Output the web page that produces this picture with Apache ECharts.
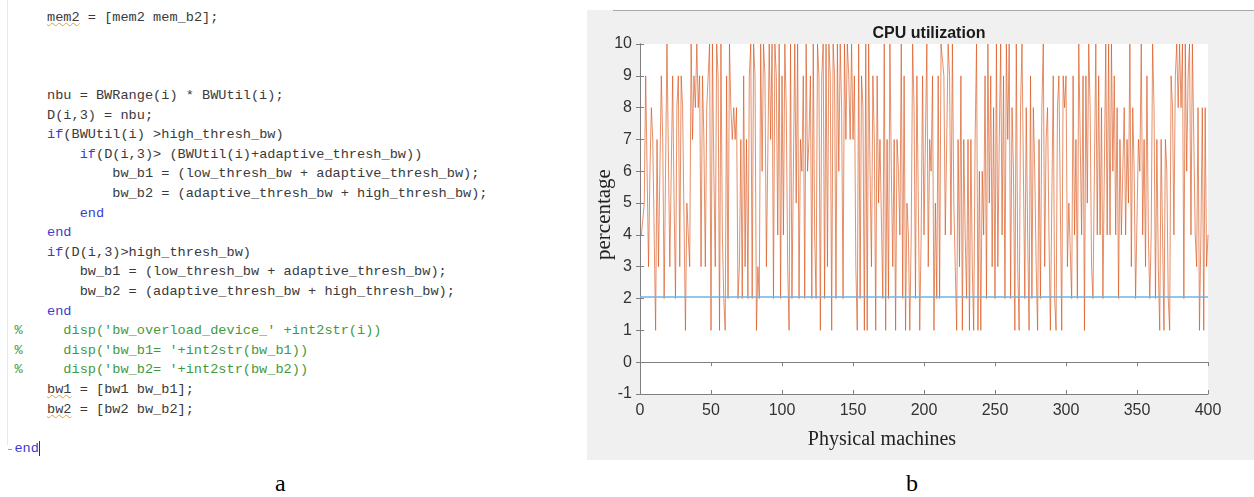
<!DOCTYPE html>
<html>
<head>
<meta charset="utf-8">
<script src="https://cdn.jsdelivr.net/npm/echarts@6/dist/echarts.min.js"></script>
<style>
  html, body { margin: 0; padding: 0; background: #fff; }
  #page { position: relative; width: 1254px; height: 497px; overflow: hidden; }
  #code {
    position: absolute; left: 14.4px; top: 7.7px; margin: 0;
    font-family: "Liberation Mono", "DejaVu Sans Mono", monospace;
    font-size: 13.6px; line-height: 19.6px; color: #3a3a3a; white-space: pre;
  }
  #code .kw { color: #3b3bd0; }
  #code .cm { color: #3f9a3f; }
  #code .wv { text-decoration: underline wavy #e3a03a; text-decoration-thickness: 1px; }
  #code .cur { border-right: 1.5px solid #333; }
  #gutter { position: absolute; left: 7px; top: 0; width: 1px; height: 445px; background: #e8e8e8; }
  #fold { position: absolute; left: 8px; top: 449px; width: 4px; height: 1px; background: #999; }
  .lbl { position: absolute; top: 470px; font-family: "Liberation Serif", serif; font-size: 24px; color: #000; }
  #chart { position: absolute; left: 587px; top: 10px; width: 667px; height: 450px; }
  #topline { position: absolute; left: 613px; top: 10px; width: 641px; height: 1px; background: #a8a8a8; }
</style>
</head>
<body>
<div id="page">
  <div id="gutter"></div>
  <div id="fold"></div>
<pre id="code">    <span class="wv">mem2</span> = [mem2 mem_b2];



    nbu = BWRange(i) * BWUtil(i);
    D(i,3) = nbu;
    <span class="kw">if</span>(BWUtil(i) >high_thresh_bw)
        <span class="kw">if</span>(D(i,3)> (BWUtil(i)+adaptive_thresh_bw))
            bw_b1 = (low_thresh_bw + adaptive_thresh_bw);
            bw_b2 = (adaptive_thresh_bw + high_thresh_bw);
        <span class="kw">end</span>
    <span class="kw">end</span>
    <span class="kw">if</span>(D(i,3)>high_thresh_bw)
        bw_b1 = (low_thresh_bw + adaptive_thresh_bw);
        bw_b2 = (adaptive_thresh_bw + high_thresh_bw);
    <span class="kw">end</span>
<span class="cm">%     disp('bw_overload_device_' +int2str(i))</span>
<span class="cm">%     disp('bw_b1= '+int2str(bw_b1))</span>
<span class="cm">%     disp('bw_b2= '+int2str(bw_b2))</span>
    <span class="wv">bw1</span> = [bw1 bw_b1];
    <span class="wv">bw2</span> = [bw2 bw_b2];

<span class="kw cur">end</span></pre>
  <div class="lbl" style="left:275px;">a</div>
  <div class="lbl" style="left:906px;">b</div>
  <div id="chart"></div>
  <div id="topline"></div>
</div>

<script>
// CPU utilization per physical machine (machines 1..400)
const cpuUtil = [
  4, 4, 5, 9, 9, 3, 6, 8, 7, 4,
  1, 7, 3, 6, 9, 7, 2, 6, 10, 10,
  3, 6, 9, 5, 2, 8, 9, 3, 9, 8,
  8, 1, 5, 4, 3, 10, 7, 9, 8, 10,
  8, 9, 3, 9, 7, 3, 8, 9, 10, 1,
  10, 6, 3, 10, 9, 1, 10, 4, 2, 1,
  9, 2, 10, 8, 7, 8, 7, 8, 2, 3,
  7, 2, 9, 3, 7, 2, 9, 10, 2, 10,
  9, 1, 3, 2, 10, 6, 10, 9, 3, 3,
  10, 7, 10, 2, 10, 9, 4, 10, 2, 9,
  4, 10, 8, 3, 1, 10, 2, 6, 10, 5,
  10, 2, 7, 6, 9, 2, 10, 6, 7, 9,
  2, 10, 4, 2, 10, 9, 1, 9, 10, 2,
  10, 3, 10, 9, 1, 10, 9, 2, 10, 6,
  10, 8, 2, 10, 7, 10, 9, 7, 10, 7,
  9, 3, 1, 10, 2, 9, 8, 1, 10, 1,
  10, 6, 3, 9, 7, 1, 9, 5, 7, 7,
  2, 10, 1, 7, 2, 10, 6, 3, 7, 1,
  7, 6, 4, 10, 2, 9, 1, 5, 4, 1,
  4, 10, 8, 2, 9, 5, 1, 4, 9, 4,
  7, 10, 3, 7, 6, 9, 1, 5, 2, 9,
  2, 10, 10, 9, 4, 7, 10, 9, 4, 10,
  5, 3, 1, 7, 3, 9, 1, 7, 4, 2,
  7, 1, 7, 3, 1, 7, 10, 1, 6, 1,
  6, 4, 9, 2, 10, 5, 9, 3, 8, 2,
  10, 3, 7, 10, 4, 9, 2, 10, 7, 10,
  2, 8, 6, 1, 10, 3, 1, 8, 10, 10,
  2, 8, 4, 1, 9, 2, 8, 6, 3, 1,
  7, 2, 8, 10, 3, 7, 8, 4, 1, 1,
  9, 2, 1, 8, 9, 5, 1, 9, 8, 9,
  3, 5, 5, 2, 9, 4, 7, 2, 10, 10,
  4, 9, 1, 9, 5, 10, 8, 3, 2, 2,
  10, 4, 9, 4, 8, 2, 6, 10, 4, 10,
  4, 10, 6, 9, 4, 8, 2, 7, 4, 6,
  8, 4, 7, 5, 10, 3, 8, 6, 2, 2,
  7, 6, 10, 4, 7, 3, 9, 4, 2, 4,
  10, 8, 2, 7, 3, 1, 7, 4, 1, 7,
  6, 2, 1, 9, 8, 4, 9, 10, 8, 10,
  8, 10, 2, 10, 6, 9, 10, 4, 10, 10,
  4, 3, 8, 1, 4, 8, 1, 8, 3, 4
];
const machines = cpuUtil.map((v, i) => i + 1);
const thresholdX = [0, 400];
const thresholdY = [2.05, 2.05];

const axisColor = "#7f7f7f";
const chart = echarts.init(document.getElementById("chart"), null, { renderer: "canvas" });

const boxAxis = {
  axisLine: { show: true, lineStyle: { color: axisColor, width: 1 } },
  axisTick: { show: true, inside: true, length: 4, lineStyle: { color: axisColor } },
  axisLabel: { show: false },
  splitLine: { show: false },
};

chart.setOption({
  animation: false,
  backgroundColor: "#f0f0f0",
  title: {
    text: "CPU utilization",
    left: 337,
    textAlign: "center",
    top: 11,
    textStyle: { fontFamily: "Liberation Sans", fontSize: 16, fontWeight: "bold", color: "#1a1a1a" },
  },
  grid: {
    left: 53, top: 34, right: 46, bottom: 66,
    show: true, backgroundColor: "#ffffff", borderWidth: 0,
  },
  xAxis: [
    {
      type: "value", min: 0, max: 400, interval: 50, position: "bottom",
      axisLine: { show: true, onZero: false, lineStyle: { color: axisColor } },
      axisTick: { show: true, inside: true, length: 4, lineStyle: { color: axisColor } },
      axisLabel: { fontFamily: "Liberation Sans", fontSize: 16, color: "#333", margin: 9 },
      splitLine: { show: false },
    },
    Object.assign({ type: "value", min: 0, max: 400, interval: 50, position: "top" }, boxAxis),
  ],
  yAxis: [
    {
      type: "value", min: -1, max: 10, interval: 1, position: "left",
      axisLine: { show: true, onZero: false, lineStyle: { color: axisColor } },
      axisTick: { show: true, inside: true, length: 4, lineStyle: { color: axisColor } },
      axisLabel: { fontFamily: "Liberation Sans", fontSize: 16, color: "#333", margin: 8 },
      splitLine: { show: false },
    },
    Object.assign({ type: "value", min: -1, max: 10, interval: 1, position: "right" }, boxAxis),
  ],
  graphic: [
    {
      type: "text", x: 7, y: 250, rotation: Math.PI / 2,
      style: { text: "percentage", fontFamily: "Liberation Serif", fontSize: 21, fill: "#222" },
    },
    {
      type: "text", x: 295, y: 430,
      style: { text: "Physical machines", fontFamily: "Liberation Serif", fontSize: 20, fill: "#222", align: "center", verticalAlign: "middle" },
    },
  ],
  series: [
    {
      type: "line",
      data: machines.map((m, i) => [m, cpuUtil[i]]),
      showSymbol: false,
      lineStyle: { color: "rgba(217,83,25,0.65)", width: 1 },
    },
    {
      type: "line",
      data: thresholdX.map((x, i) => [x, thresholdY[i]]),
      showSymbol: false,
      lineStyle: { color: "#6fb3e0", width: 1.5 },
    },
  ],
});
</script>
</body>
</html>
